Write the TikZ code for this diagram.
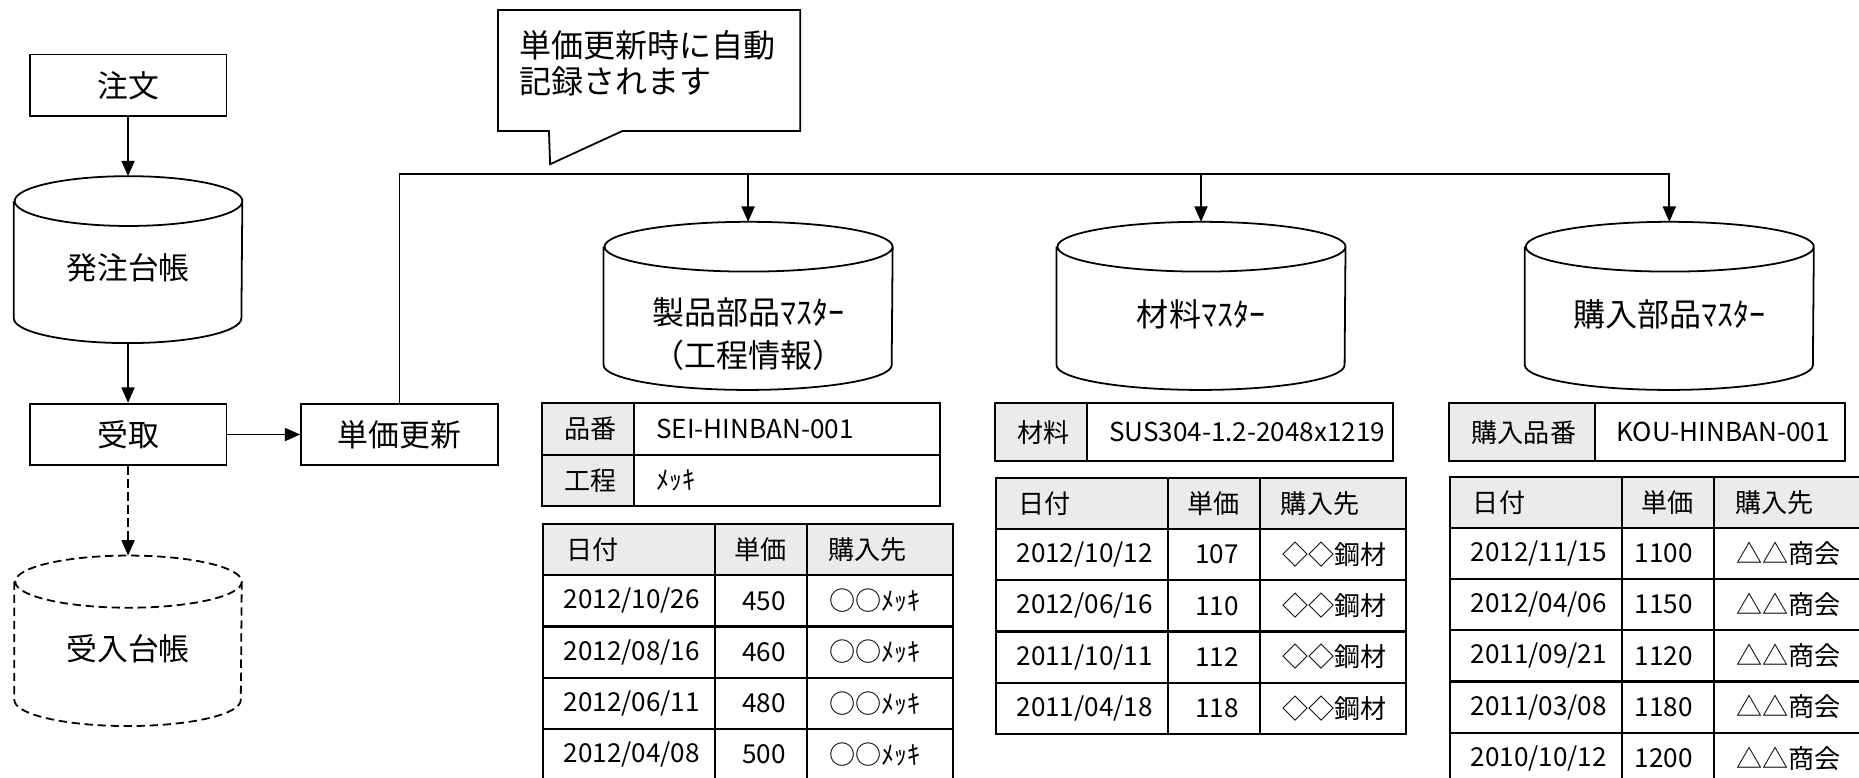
\documentclass[tikz,border=0pt]{standalone}
\usepackage{fontspec}
\setmainfont{Noto Sans CJK JP}
\usetikzlibrary{
    arrows.meta,
    positioning
}
\definecolor{cellgray}{HTML}{EBEBEB}

\tikzset{
    flowbox/.style = {draw, line width=0.75pt, minimum width=83pt, minimum height=26pt,
        inner sep=0pt, font=\fontsize{13}{16}\selectfont},
    dbcyl/.style = {inner sep=0pt, label={[font=\fontsize{13}{16}\selectfont, yshift=-3.5pt]center:#1}},
    dbmaster/.style n args = {2}{inner sep=0pt, minimum width=121.5pt, minimum height=70.5pt,
        label={[font=\fontsize{13.5}{18}\selectfont, align=center, yshift=#2]center:#1}},
    flow/.style = {line width=0.75pt, -{Triangle[length=6.5pt,width=5.5pt]}},
    cellline/.style = {line width=0.9pt},
    celltext/.style = {inner sep=0pt, font=\fontsize{11}{13}\selectfont}
}

% cylinder outline round a node: [options], node, x radius, y radius
\newcommand{\cylout}[4][]{%
    \draw[line width=0.75pt, #1] ([yshift=-#4]#2.north west) -- ([yshift=#4]#2.south west)
        arc[start angle=180, end angle=360, x radius=#3, y radius=#4]
        -- ([yshift=-#4]#2.north east)
        arc[start angle=0, end angle=180, x radius=#3, y radius=#4]
        arc[start angle=180, end angle=360, x radius=#3, y radius=#4];
}

% price history: prefix, left x, top y, number of rows, rows
\newcommand{\histtable}[5]{%
    \fill[cellgray] (#2,#3) rectangle ++(346,43.2);
    \node (#1-h1) [celltext, anchor=west] at (#2+19, #3+21.6) {日付};
    \node (#1-h2) [celltext, anchor=east] at (#2+206, #3+21.6) {単価};
    \node (#1-h3) [celltext, anchor=west] at (#2+240, #3+21.6) {購入先};
    \foreach \when/\cost/\who [count=\row] in {#5} {
        \node (#1-d\row) [celltext, anchor=west] at (#2+17, #3+21.6+43.2*\row) {\when};
        \node (#1-p\row) [celltext, anchor=east] at (#2+205, #3+21.6+43.2*\row) {\cost};
        \node (#1-s\row) [celltext, anchor=west] at (#2+241, #3+21.6+43.2*\row) {\who};
        \draw[cellline] (#2, #3+43.2*\row) -- ++(346,0);
    }
    \draw[cellline] (#2,#3) rectangle ++(346, 43.2*#4+43.2);
    \draw[cellline] (#2+145,#3) -- ++(0, 43.2*#4+43.2);
    \draw[cellline] (#2+223,#3) -- ++(0, 43.2*#4+43.2);
}

% key/value box: prefix, left x, top y, label width, width, row height, rows
\newcommand{\infotable}[7]{%
    \foreach \lbl/\val [count=\row from 0] in {#7} {
        \fill[cellgray] (#2, #3+#6*\row) rectangle ++(#4, #6);
        \node (#1-k\row) [celltext, anchor=west] at (#2+19, #3+#6*\row+#6/2) {\lbl};
        \node (#1-v\row) [celltext, anchor=west] at (#2+#4+18, #3+#6*\row+#6/2) {\val};
        \draw[cellline] (#2, #3+#6*\row) rectangle ++(#5, #6);
        \draw[cellline] (#2+#4, #3+#6*\row) -- ++(0, #6);
    }
}

\begin{document}
\begin{tikzpicture}[x=0.5pt, y=-0.5pt]
    \useasboundingbox (0,0) rectangle (1568,656);
    \clip (0,0) rectangle (1568,656);

    % left flow
    \node (order) [flowbox] at (108,72) {注文};
    \node (olog) [dbcyl=発注台帳, minimum width=96pt, minimum height=70pt] at (108,219) {};
    \node (recv) [flowbox] at (108,366.5) {受取};
    \node (upd) [flowbox] at (337,366.5) {単価更新};
    \node (rlog) [dbcyl=受入台帳, minimum width=95.5pt, minimum height=71.5pt] at (108,540.5) {};
    \cylout{olog}{48pt}{10.5pt}
    \cylout[dash pattern=on 3.5pt off 2pt]{rlog}{47.75pt}{11pt}

    \draw[flow] (order.south) -- (olog.north);
    \draw[flow] (olog.south) -- (recv.north);
    \draw[flow] (recv) -- (upd);
    \draw[flow, dash pattern=on 3.5pt off 2pt] (recv.south) -- (rlog.north);

    % masters
    \node (pm) [dbmaster={製品部品ﾏｽﾀｰ\\（工程情報）}{-12pt}] at (631,258) {};
    \node (mm) [dbmaster={材料ﾏｽﾀｰ}{-3.5pt}] at (1013,258) {};
    \node (bm) [dbmaster={購入部品ﾏｽﾀｰ}{-3.5pt}] at (1408,258) {};
    \foreach \m in {pm, mm, bm}
        \cylout{\m}{60.75pt}{10.5pt};

    \coordinate (bus) at (337,147);
    \draw[flow] (upd.north) -- (bus) -| (bm.north);
    \draw[flow] (pm.north |- bus) -- (pm.north);
    \draw[flow] (mm.north |- bus) -- (mm.north);

    % callout
    \draw[line width=0.75pt] (420,8.5) -- (675,8.5) -- (675,110.5) -- (525,110.5)
        -- (464,138.5) -- (463,110.5) -- (420,110.5) -- cycle;
    \node (note) [anchor=north west, inner sep=0pt, align=left,
        font=\fontsize{13.5}{15.5}\selectfont] at (438,25) {単価更新時に自動\\記録されます};

    % tables
    \infotable{pi}{457}{340}{78}{336}{43.5}{品番/SEI-HINBAN-001, 工程/ﾒｯｷ}
    \histtable{ph}{458}{442}{4}{{2012/10/26}/450/○○ﾒｯｷ, {2012/08/16}/460/○○ﾒｯｷ,
        {2012/06/11}/480/○○ﾒｯｷ, {2012/04/08}/500/○○ﾒｯｷ}

    \infotable{mi}{839}{340}{78}{336}{49}{材料/SUS304-1.2-2048x1219}
    \histtable{mh}{840}{403}{4}{{2012/10/12}/107/◇◇鋼材, {2012/06/16}/110/◇◇鋼材,
        {2011/10/11}/112/◇◇鋼材, {2011/04/18}/118/◇◇鋼材}

    \infotable{bi}{1222}{340}{123}{334}{49}{購入品番/KOU-HINBAN-001}
    \histtable{bh}{1223}{402}{5}{{2012/11/15}/1100/△△商会, {2012/04/06}/1150/△△商会,
        {2011/09/21}/1120/△△商会, {2011/03/08}/1180/△△商会, {2010/10/12}/1200/△△商会}
\end{tikzpicture}
\end{document}
